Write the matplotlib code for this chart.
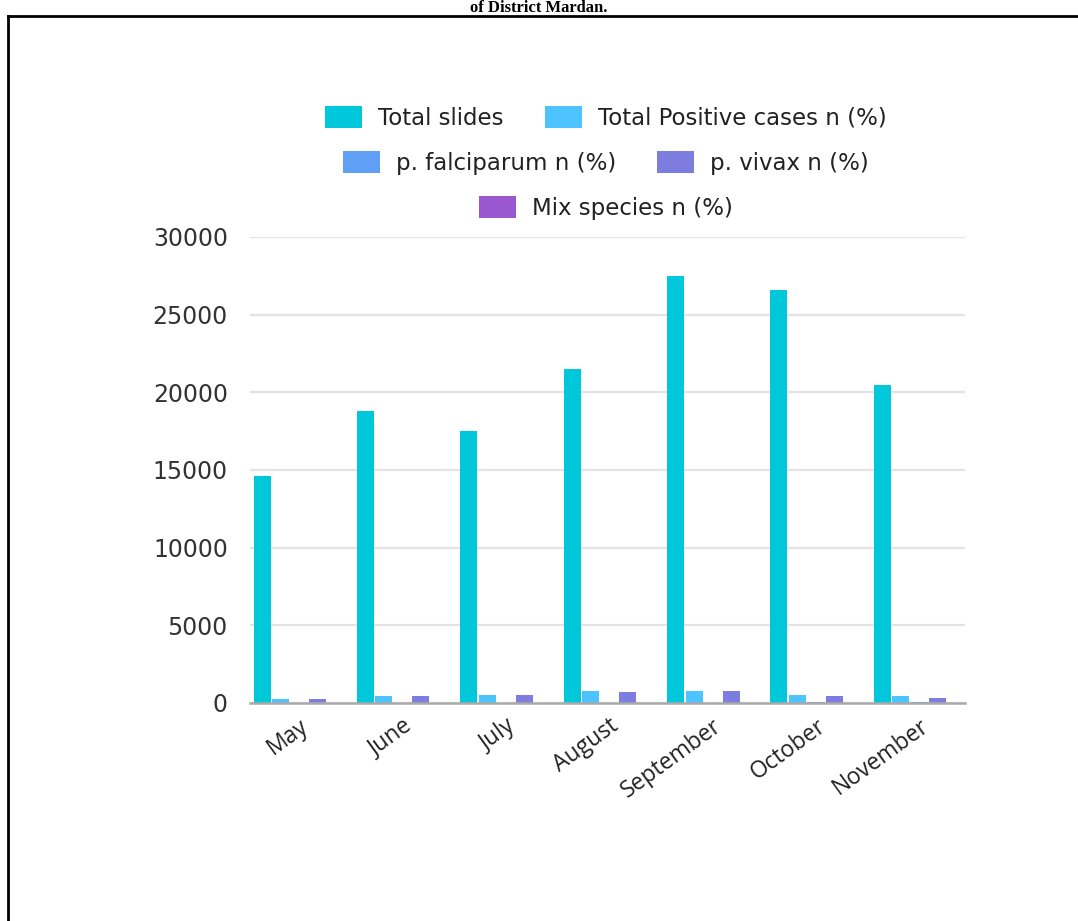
import matplotlib
matplotlib.use("Agg")
import matplotlib.pyplot as plt
from matplotlib.lines import Line2D
from matplotlib.patches import Patch
import numpy as np

months = ["May", "June", "July", "August", "September", "October", "November"]

total_slides  = [14600, 18800, 17500, 21500, 27500, 26600, 20500]
total_pos     = [260, 450, 540, 770, 800, 540, 480]
p_falciparum  = [8, 12, 15, 20, 18, 55, 85]
p_vivax       = [250, 420, 510, 740, 780, 480, 310]
mix_species   = [2, 3, 3, 4, 5, 6, 4]

series_labels = ["Total slides", "Total Positive cases n (%)",
                 "p. falciparum n (%)", "p. vivax n (%)", "Mix species n (%)"]
colors = ["#00C8DA", "#4DC4FF", "#5FA0F5", "#7D7DE0", "#9A58D0"]

series = [total_slides, total_pos, p_falciparum, p_vivax, mix_species]

fig = plt.figure(figsize=(10.78, 9.21), dpi=100)
ax = fig.add_axes([0.232, 0.2367, 0.663, 0.506])

x = np.arange(len(months))
step, width = 0.179, 0.164
for i, (vals, lab, col) in enumerate(zip(series, series_labels, colors)):
    ax.bar(x + (i - 2) * step, vals, width=width, color=col, label=lab, zorder=3)

ax.set_xlim(-0.474, 6.44)
ax.set_ylim(0, 30000)
ax.set_yticks(np.arange(0, 30001, 5000))
ax.grid(axis="y", color="#e3e3e3", linewidth=1.6, zorder=0)
ax.set_axisbelow(True)
for s in ["top", "right", "left"]:
    ax.spines[s].set_visible(False)
ax.spines["bottom"].set_color("#aaaaaa")
ax.spines["bottom"].set_linewidth(1.8)
ax.spines["bottom"].set_zorder(4)
ax.tick_params(axis="both", length=0)
ax.tick_params(axis="y", pad=16, labelsize=17, labelcolor="#333333")
ax.set_xticks(x)
ax.set_xticklabels(months, rotation=36, ha="right", rotation_mode="anchor",
                   fontsize=16.5, family="Open Sans", color="#222222")
ax.tick_params(axis="x", pad=8)

# legend in three centred rows
handles = [Patch(facecolor=c, edgecolor="none") for c in colors]
rows = [([0, 1], 0.872), ([2, 3], 0.823), ([4], 0.774)]
for idx, yc in rows:
    leg = fig.legend([handles[i] for i in idx], [series_labels[i] for i in idx],
                     loc="center", bbox_to_anchor=(0.562, yc), ncol=len(idx),
                     frameon=False, fontsize=16.5, handlelength=1.6, handleheight=1.1,
                     handletextpad=0.7, columnspacing=1.8)
    for t in leg.get_texts():
        t.set_color("#222222")

# page border and caption
fig.add_artist(Line2D([0.0075, 0.0075], [0.0, 0.983], color="black", lw=2))
fig.add_artist(Line2D([0.0075, 1.0], [0.983, 0.983], color="black", lw=2))
fig.text(0.5, 0.9995, "of District Mardan.", ha="center", va="top",
         fontsize=12, fontweight="bold", family="Liberation Serif")

fig.savefig("out.png", dpi=100)
